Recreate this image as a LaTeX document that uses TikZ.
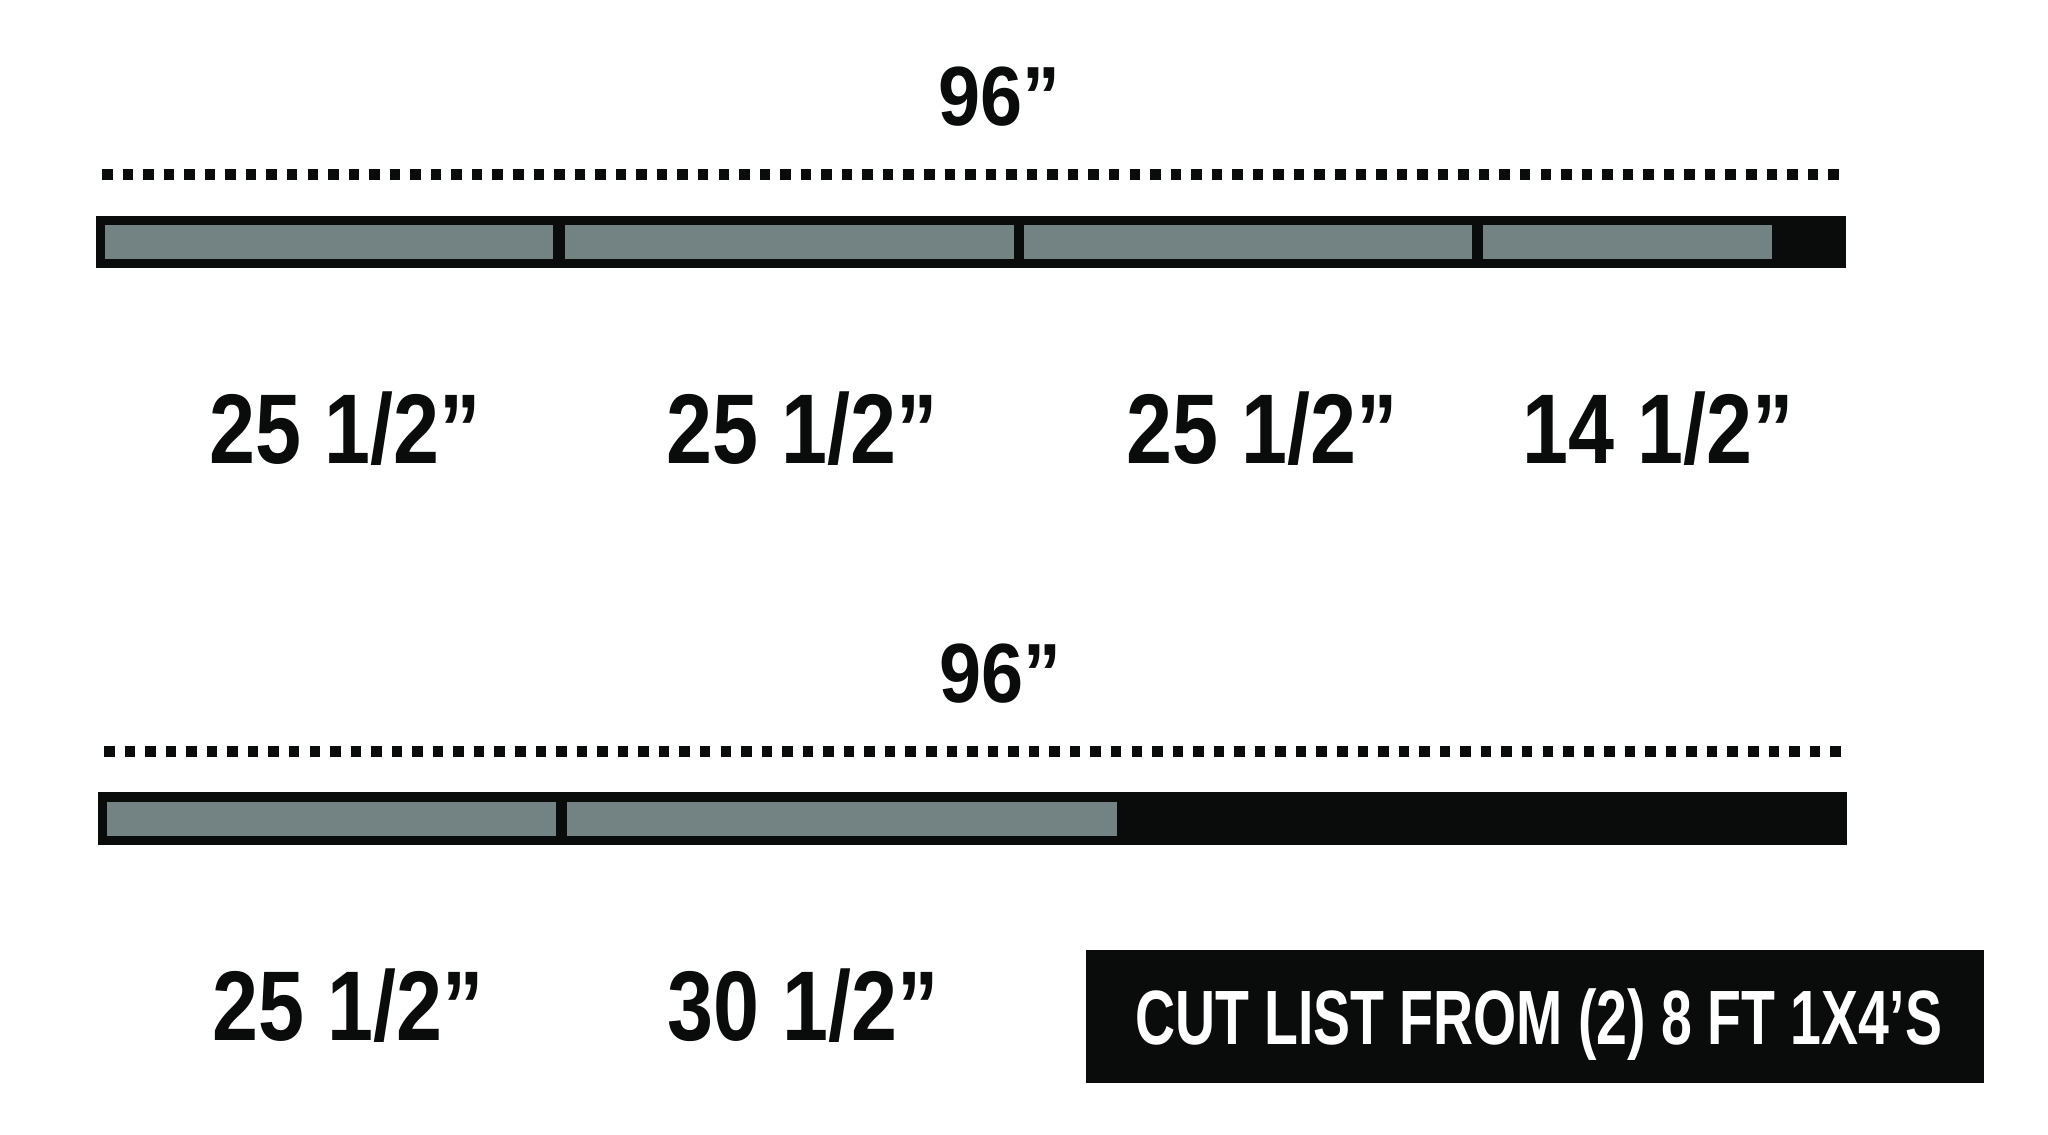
\documentclass[tikz,border=0pt]{standalone}
\usepackage{fontspec}
\newfontfamily\labfont{Liberation Sans}[FakeStretch=0.835]
\newfontfamily\topfont{Liberation Sans}[FakeStretch=0.90]
\newfontfamily\boxfont{Liberation Sans}[FakeStretch=0.72]
\definecolor{woodgray}{RGB}{115,130,131}
\definecolor{ink}{RGB}{10,11,11}
\tikzset{
  board/.style={fill=ink, draw=none},
  piece/.style={fill=woodgray, draw=none},
  dotline/.style={draw=ink, line width=11pt, dash pattern=on 10.5pt off 10.05pt},
  cutlabel/.style={inner sep=0pt, anchor=base, text=ink, font=\labfont\bfseries\fontsize{99}{99}\selectfont},
  totallabel/.style={inner sep=0pt, anchor=base, text=ink, font=\topfont\bfseries\fontsize{84}{84}\selectfont},
  titlebox/.style={fill=ink, draw=none},
  titletext/.style={inner sep=0pt, anchor=base, text=white, font=\boxfont\bfseries\fontsize{77}{77}\selectfont}
}
\begin{document}
\begin{tikzpicture}[x=1pt,y=-1pt]
\useasboundingbox (0,0) rectangle (2048,1135);
\fill[white] (0,0) rectangle (2048,1135);
% ---- board 1
\node[totallabel] (t1) at (999,125) {96”};
\coordinate (d1a) at (102,174);
\coordinate (d1b) at (1839,174);
\draw[dotline] (d1a) -- (d1b);
\path[board] (95.5,215.7) rectangle (1845.7,268.3);
\path[piece] (104.5,225) rectangle (553.4,259);
\path[piece] (564.5,225) rectangle (1013.5,259);
\path[piece] (1024,225) rectangle (1472,259);
\path[piece] (1483.3,225) rectangle (1772.3,259);
\node[cutlabel] (a1) at (345,463.5) {25 1/2”};
\node[cutlabel] (a2) at (802,463.5) {25 1/2”};
\node[cutlabel] (a3) at (1262,463.5) {25 1/2”};
\node[cutlabel] (a4) at (1658,463.5) {14 1/2”};
% ---- board 2
\node[totallabel] (t2) at (1000,702) {96”};
\coordinate (d2a) at (104,751.5);
\coordinate (d2b) at (1841,751.5);
\draw[dotline] (d2a) -- (d2b);
\path[board] (97.7,792.3) rectangle (1847.3,845);
\path[piece] (107.3,801.7) rectangle (556.4,835.5);
\path[piece] (566.8,801.7) rectangle (1116.7,835.5);
\node[cutlabel] (b1) at (348,1040.5) {25 1/2”};
\node[cutlabel] (b2) at (803,1040.5) {30 1/2”};
% ---- title box
\path[titlebox] (1086,950) rectangle (1984.3,1083.3);
\node[titletext] (title) at (1538.5,1044) {CUT LIST FROM (2) 8 FT 1X4’S};
\end{tikzpicture}
\end{document}
